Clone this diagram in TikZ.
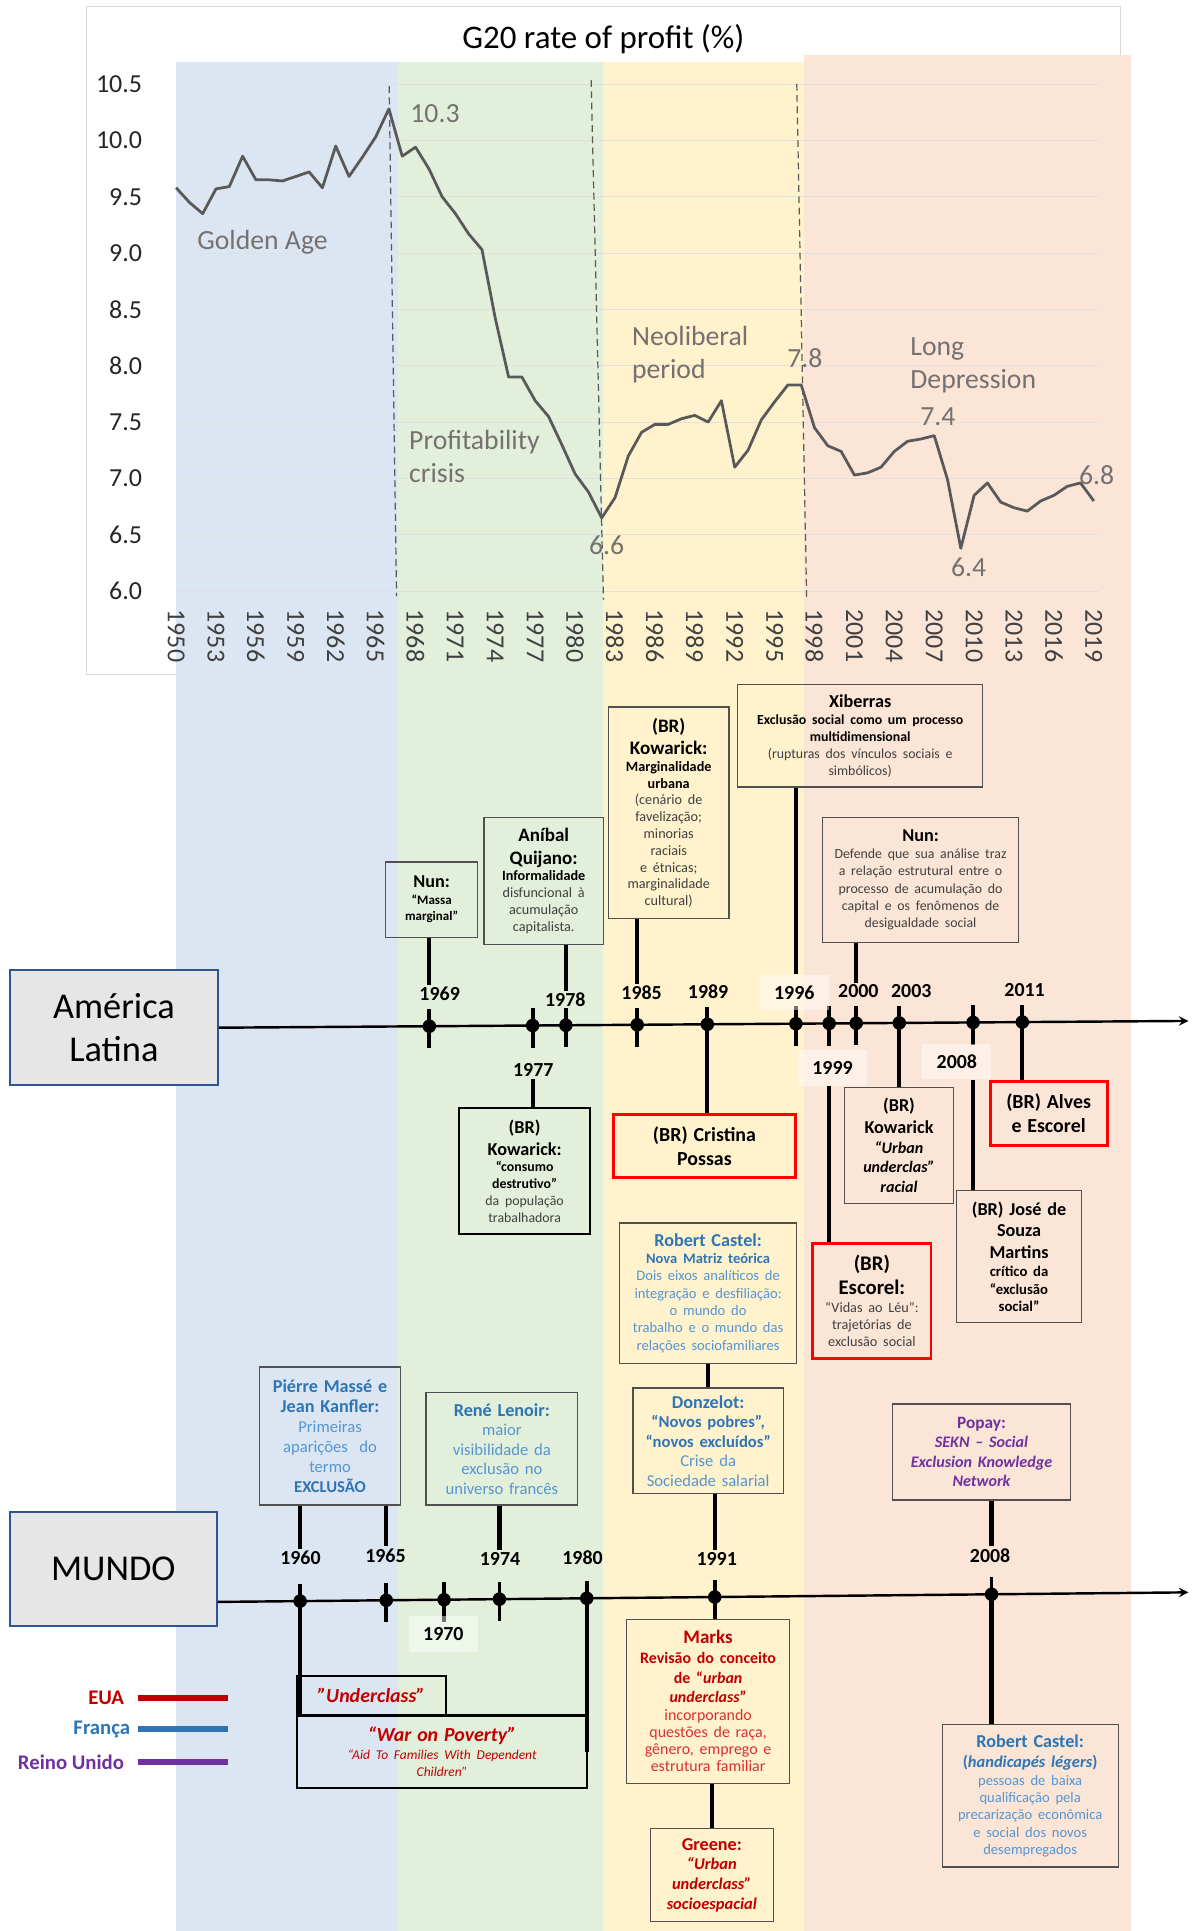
\documentclass[tikz,border=0pt]{standalone}
\usepackage{fontspec}
\setmainfont{Carlito}
\usetikzlibrary{calc}

\definecolor{azulbg}{RGB}{220,230,242}
\definecolor{verdebg}{RGB}{226,239,218}
\definecolor{amarelobg}{RGB}{255,242,204}
\definecolor{pessegobg}{RGB}{251,229,214}
\definecolor{cinzagrade}{RGB}{217,217,217}
\definecolor{cinzaserie}{RGB}{89,89,89}
\definecolor{cinzanota}{RGB}{118,113,113}
\definecolor{cinzatxt}{RGB}{64,64,64}
\definecolor{borda}{RGB}{80,80,80}
\definecolor{cinzabox}{RGB}{231,230,230}
\definecolor{azulborda}{RGB}{47,85,151}
\definecolor{azul}{RGB}{46,117,182}
\definecolor{azulclaro}{RGB}{84,150,212}
\definecolor{vermelho}{RGB}{192,0,0}
\definecolor{vermelhoclaro}{RGB}{215,50,50}
\definecolor{roxo}{RGB}{112,48,160}

\newlength{\pxu}\setlength{\pxu}{0.025cm}
\newcommand{\fsz}[2]{\fontsize{#1}{#2}\selectfont}
\newcommand{\bloco}[3]{{\fsz{#1}{#2}\centering #3\par}}

\begin{document}
\begin{tikzpicture}[x=0.025cm, y=-0.025cm, >=stealth,
  caixa/.style 2 args={draw=borda, line width=0.7pt, minimum width=#1\pxu, minimum height=#2\pxu,
    text width=#1\pxu, inner xsep=0pt, inner ysep=1pt, align=center, text=black},
  caixavm/.style 2 args={caixa={#1}{#2}, draw=red, line width=1.6pt},
  caixapt/.style 2 args={caixa={#1}{#2}, draw=black, line width=1.2pt},
  conn/.style={line width=2.4pt},
  eixo/.style={line width=1.4pt, ->},
  ano/.style={font=\fsz{11.5}{13}\bfseries, inner sep=1pt},
  fundo/.style={fill=white, fill opacity=0.45, text opacity=1, minimum width=56\pxu, minimum height=29\pxu},
  semfundo/.style={},
  regiao/.style={font=\fsz{21}{25}, draw=azulborda, line width=1.1pt, fill=cinzabox, align=center},
  nota/.style={anchor=west, text=cinzanota, font=\fsz{16}{19}, align=left, inner sep=0pt},
  grade/.style={draw=black!12, line width=0.5pt},
  serie/.style={line width=1.6pt, draw=cinzaserie, line join=round},
  tracejado/.style={dash pattern=on 4pt off 2.5pt, draw=cinzaserie, line width=0.7pt},
  legl/.style={line width=3.5pt},
  leg/.style={anchor=east, font=\fsz{12}{14}\bfseries, inner sep=0pt},
  marco/.pic={\draw[line width=2.2pt] (0,-14) -- (0,18); \fill (0,0) circle (5.5);}]

\useasboundingbox (0,0) rectangle (968,1568);

% Moldura do grafico
\draw[draw=cinzagrade, fill=white, line width=0.6pt] (70,5) rectangle (910,548);

% Faixas dos periodos
\fill[azulbg] (143,50) rectangle (323,1568);
\fill[verdebg] (323,50) rectangle (490,1568);
\fill[amarelobg] (490,50) rectangle (653,1568);
\fill[pessegobg] (653,45) rectangle (918,1568);

\node[font=\fsz{19}{22}] (titulo) at (490,32) {G20 rate of profit (\%)};

% Grafico: x = anos desde 1950, y = taxa
\begin{scope}[shift={(143,1029)}, xscale=10.8, yscale=-91.5]
  \foreach \v in {6,6.5,...,10.5} \draw[grade] (0,\v) -- (69.4,\v);
  \foreach \v [count=\i] in {6.0,6.5,7.0,7.5,8.0,8.5,9.0,9.5,10.0,10.5}
    \node[anchor=east, font=\fsz{15}{17}, text=black!85] (rot\i) at (-2.1,\v) {\v};
  \foreach \a [count=\i, evaluate=\a as \ano using int(1950+\a)] in {0,3,...,69}
    \node[rotate=-90, anchor=west, font=\fsz{15}{17}, text=cinzatxt, inner sep=0pt] (anox\i) at (\a,5.84) {\ano};
  \draw[serie] plot coordinates {(0,9.58) (1,9.45) (2,9.35) (3,9.57) (4,9.59) (5,9.86) (6,9.65)
    (7,9.65) (8,9.64) (9,9.68) (10,9.72) (11,9.58) (12,9.95) (13,9.68) (14,9.85) (15,10.03)
    (16,10.28) (17,9.86) (18,9.94) (19,9.75) (20,9.5) (21,9.35) (22,9.17) (23,9.03) (24,8.42)
    (25,7.9) (26,7.9) (27,7.69) (28,7.55) (29,7.3) (30,7.04) (31,6.88) (32,6.65) (33,6.83)
    (34,7.2) (35,7.41) (36,7.48) (37,7.48) (38,7.53) (39,7.56) (40,7.5) (41,7.69) (42,7.1)
    (43,7.25) (44,7.52) (45,7.68) (46,7.83) (47,7.83) (48,7.45) (49,7.29) (50,7.24) (51,7.03)
    (52,7.05) (53,7.1) (54,7.24) (55,7.33) (56,7.35) (57,7.38) (58,6.99) (59,6.38) (60,6.85)
    (61,6.96) (62,6.79) (63,6.74) (64,6.71) (65,6.8) (66,6.85) (67,6.93) (68,6.96) (69,6.8)};
\end{scope}

% Divisoes dos periodos
\draw[tracejado] (316,70) -- (322,484);
\draw[tracejado] (480,65) -- (490,487);
\draw[tracejado] (647,68) -- (655,485);

\node[nota] (n103) at (333,92) {10.3};
\node[nota] (ngolden) at (160,197) {Golden Age};
\node[nota] (ncrise) at (332,371) {Profitability\\crisis};
\node[nota] (n66) at (478,443) {6.6};
\node[nota] (nneo) at (513,288) {Neoliberal\\period};
\node[nota] (n78) at (639,291) {7.8};
\node[nota] (nlong) at (739,297) {Long\\Depression};
\node[nota] (n74) at (747,338) {7.4};
\node[nota] (n64) at (772,461) {6.4};
\node[nota] (n68) at (876,386) {6.8};

% America Latina
\node[regiao, minimum width=169\pxu, minimum height=93\pxu] (al) at (92.5,834.5) {América\\Latina};
\coordinate (alini) at (al.east);
\coordinate (alfim) at (965,829);
\draw[eixo] (alini) -- (alfim);
\foreach \a/\px in {1969/348,1977/432,1978/459,1985/517,1989/574,1996/646,1999/673,2000/695,2003/730,2008/790,2011/830}{
  \coordinate (la\a) at ($(alini)!{(\px-177)/788}!(alfim)$);
  \pic at (la\a) {marco};
}
\foreach \a/\px/\py/\extra in {1969/357/807/semfundo, 1977/433/869/semfundo, 1978/459/812/semfundo,
    1985/521/806/semfundo, 1989/575/805/semfundo, 1996/645/806/fundo, 1999/676/867/fundo,
    2000/697/805/semfundo, 2003/740/805/semfundo, 2008/777/862/fundo, 2011/832/804/semfundo}
  \node[ano,\extra] (ala\a) at (\px,\py) {\a};

\node[caixa={75}{61}] (nun69) at (350.5,730.5)
  {\bloco{10.5}{12.5}{\bfseries Nun:}\bloco{7.5}{9.5}{\bfseries “Massa\\marginal”}};
\node[caixa={97}{103}] (anibal) at (441.5,715.5)
  {\bloco{11}{13}{\bfseries Aníbal\\Quijano:}\bloco{8.2}{9.8}{\bfseries Informalidade}%
   \bloco{8.2}{9.8}{\color{cinzatxt}disfuncional à\\acumulação\\capitalista.}};
\node[caixa={98}{172}] (kow85) at (543,660)
  {\bloco{11}{13}{\bfseries (BR)\\Kowarick:}\bloco{8.2}{9.7}{\bfseries Marginalidade\\urbana}%
   \bloco{8.2}{9.7}{\color{cinzatxt}(cenário de\\favelização;\\minorias\\raciais\\e étnicas;\\marginalidade\\cultural)}};
\node[caixa={199}{83}] (xib) at (698.5,597.5)
  {\bloco{10.5}{13}{\bfseries Xiberras}\bloco{8}{9.8}{\bfseries Exclusão social como um processo\\multidimensional}%
   \bloco{8}{9.8}{\color{cinzatxt}(rupturas dos vínculos sociais e\\simbólicos)}};
\node[caixa={159}{101}] (nun00) at (747.5,714.5)
  {\bloco{10.5}{13}{\bfseries Nun:}\bloco{8}{10}{\color{cinzatxt}Defende que sua análise traz\\a relação estrutural entre o\\processo de acumulação do\\capital e os fenômenos de\\desigualdade social}};

\node[caixa={106}{102}, line width=1.1pt, draw=black] (kow77) at (426,951)
  {\bloco{10.5}{12.5}{\bfseries (BR)\\Kowarick:}\bloco{8}{9.7}{\bfseries “consumo\\destrutivo”}%
   \bloco{8}{9.7}{\color{cinzatxt}da população\\trabalhadora}};
\node[caixavm={148}{51}] (possas) at (572,930.5)
  {\bloco{11.5}{14}{\bfseries (BR) Cristina\\Possas}};
\node[caixavm={96}{93}] (escorel) at (708,1056.5)
  {\bloco{12}{14}{\bfseries (BR)\\Escorel:}\bloco{8.2}{10}{\color{cinzatxt}“Vidas ao Léu”:\\trajetórias de\\exclusão social}};
\node[caixa={88}{94}] (kow03) at (730,930)
  {\bloco{10.5}{12.5}{\bfseries (BR)\\Kowarick}\bloco{9.3}{11.3}{\bfseries\itshape “Urban\\underclas”\\racial}};
\node[caixa={101}{107}] (jose) at (827.5,1020.5)
  {\bloco{10.5}{12.5}{\bfseries (BR) José de\\Souza\\Martins}\bloco{8.5}{10.3}{\bfseries crítico da\\“exclusão\\social”}};
\node[caixavm={95}{52}] (alves) at (851.5,904)
  {\bloco{11.5}{13.5}{\bfseries (BR) Alves\\e Escorel}};

\draw[conn] (nun69.south -| la1969) -- (ala1969.north -| la1969);
\draw[conn] (anibal.south -| la1978) -- (ala1978.north -| la1978);
\draw[conn] (kow85.south -| la1985) -- (ala1985.north -| la1985);
\draw[conn] (xib.south -| la1996) -- (ala1996.north -| la1996);
\draw[conn] (nun00.south -| la2000) -- (ala2000.north -| la2000);
\draw[conn] (ala1977.south -| la1977) -- (kow77.north -| la1977);
\draw[conn] (la1989) -- (possas.north -| la1989);
\draw[conn] (ala1999.south -| la1999) -- (escorel.north -| la1999);
\draw[conn] (la2003) -- (kow03.north -| la2003);
\draw[conn] (ala2008.south -| la2008) -- (jose.north -| la2008);
\draw[conn] (la2011) -- (alves.north -| la2011);

% Mundo
\node[regiao, minimum width=168\pxu, minimum height=92\pxu] (mundo) at (92,1274) {MUNDO};
\coordinate (muini) at ($(mundo.south east)+(0,-20)$);
\coordinate (mufim) at (965,1293);
\draw[eixo] (muini) -- (mufim);
\foreach \a/\px in {1960/243,1965/313,1970/360,1974/405,1980/476,1991/580,2008/805}{
  \coordinate (mu\a) at ($(muini)!{(\px-176)/789}!(mufim)$);
  \pic at (mu\a) {marco};
}
\foreach \a/\px/\py/\extra in {1960/244/1265/semfundo, 1965/313/1263/semfundo, 1970/360/1327/fundo,
    1974/406/1266/semfundo, 1980/473/1265/semfundo, 1991/582/1266/semfundo, 2008/804/1263/semfundo}
  \node[ano,\extra] (amu\a) at (\px,\py) {\a};

\node[caixa={114}{112}] (masse) at (268,1166)
  {\bloco{10.5}{12}{\color{azul}\bfseries Piérre Massé e\\Jean Kanfler:}%
   \bloco{9.6}{11.5}{\color{azulclaro}Primeiras\\aparições~ do\\termo}\bloco{9.6}{11.5}{\color{azul}\bfseries EXCLUSÃO}};
\node[caixa={123}{91}] (lenoir) at (407.5,1176.5)
  {\bloco{10.5}{12}{\color{azul}\bfseries René Lenoir:}%
   \bloco{9.6}{11.3}{\color{azulclaro}maior\\visibilidade da\\exclusão no\\universo francês}};
\node[caixa={144}{114}] (castel91) at (575,1050)
  {\bloco{10.5}{12.5}{\color{azul}\bfseries Robert Castel:}\bloco{8.4}{10}{\color{azul}\bfseries Nova Matriz teórica}%
   \bloco{8.4}{10}{\color{azulclaro}Dois eixos analíticos de\\integração e desfiliação:\\o mundo do\\trabalho e o mundo das\\relações sociofamiliares}};
\node[caixa={122}{86}] (donzelot) at (575,1170)
  {\bloco{10.5}{12}{\color{azul}\bfseries Donzelot:}\bloco{9.6}{11.3}{\color{azul}\bfseries “Novos pobres”,\\“novos excluídos”}%
   \bloco{9.6}{11.3}{\color{azulclaro}Crise da\\Sociedade salarial}};
\node[caixa={144}{78}] (popay) at (797,1179)
  {\bloco{10}{12}{\color{roxo}\bfseries Popay:}\bloco{9.3}{11}{\color{roxo}\bfseries\itshape SEKN – Social\\Exclusion Knowledge\\Network}};

\node[caixapt={121}{32}] (underclass) at (301.5,1377)
  {\bloco{11.5}{13}{\color{vermelho}\bfseries\itshape ”Underclass”}};
\node[caixapt={236}{59}] (war) at (359,1422.5)
  {\bloco{11.5}{13}{\color{vermelho}\bfseries\itshape “War on Poverty”}%
   \bloco{7.8}{10}{\color{vermelho}\itshape “Aid To Families With Dependent\\Children”}};
\node[caixa={132}{133}] (marks) at (575,1381.5)
  {\bloco{11}{13}{\color{vermelho}\bfseries Marks}%
   \bloco{9.2}{11.3}{\color{vermelho}\bfseries Revisão do conceito\\de “\textit{urban}\\\textit{underclass}”}%
   \bloco{9.2}{10}{\color{vermelhoclaro}incorporando\\questões de raça,\\gênero, emprego e\\estrutura familiar}};
\node[caixa={100}{75}] (greene) at (578,1522.5)
  {\bloco{10.5}{12.5}{\color{vermelho}\bfseries Greene:}\bloco{9.5}{11.3}{\color{vermelho}\bfseries\itshape “Urban\\underclass”\\socioespacial}};
\node[caixa={143}{116}] (castel08) at (836.5,1458)
  {\bloco{10.5}{12.5}{\color{azul}\bfseries Robert Castel:}\bloco{9.5}{12}{\color{azul}\bfseries (\textit{handicapés légers})}%
   \bloco{8.4}{10}{\color{azulclaro}pessoas de baixa\\qualificação pela\\precarização econômica\\e social dos novos\\desempregados}};

\draw[conn] (masse.south -| mu1960) -- (amu1960.north -| mu1960);
\draw[conn] (masse.south -| mu1965) -- (amu1965.north -| mu1965);
\draw[conn] (lenoir.south -| mu1974) -- (amu1974.north -| mu1974);
\draw[conn] (castel91.south -| donzelot) -- (donzelot.north);
\draw[conn] (donzelot.south -| mu1991) -- (amu1991.north -| mu1991);
\draw[conn] (popay.south -| mu2008) -- (amu2008.north -| mu2008);
\draw[conn] (mu1991) -- (marks.north -| mu1991);
\draw[conn] (marks.south -| greene) -- (greene.north);
\draw[conn] (mu2008) -- (castel08.north -| mu2008);
\draw[conn] (mu1960) -- (mu1960 |- war.north);
\draw[conn] (mu1980) -- (mu1980 |- war.east);

% Legenda
\node[leg, text=vermelho] (lgeua) at (101,1379) {EUA};
\node[leg, text=azul] (lgfr) at (106,1404) {França};
\node[leg, text=roxo] (lgru) at (101,1431) {Reino Unido};
\draw[legl, vermelho] (112,1379) -- (185,1379);
\draw[legl, azul] (112,1404) -- (185,1404);
\draw[legl, roxo] (112,1431) -- (185,1431);
\end{tikzpicture}
\end{document}
